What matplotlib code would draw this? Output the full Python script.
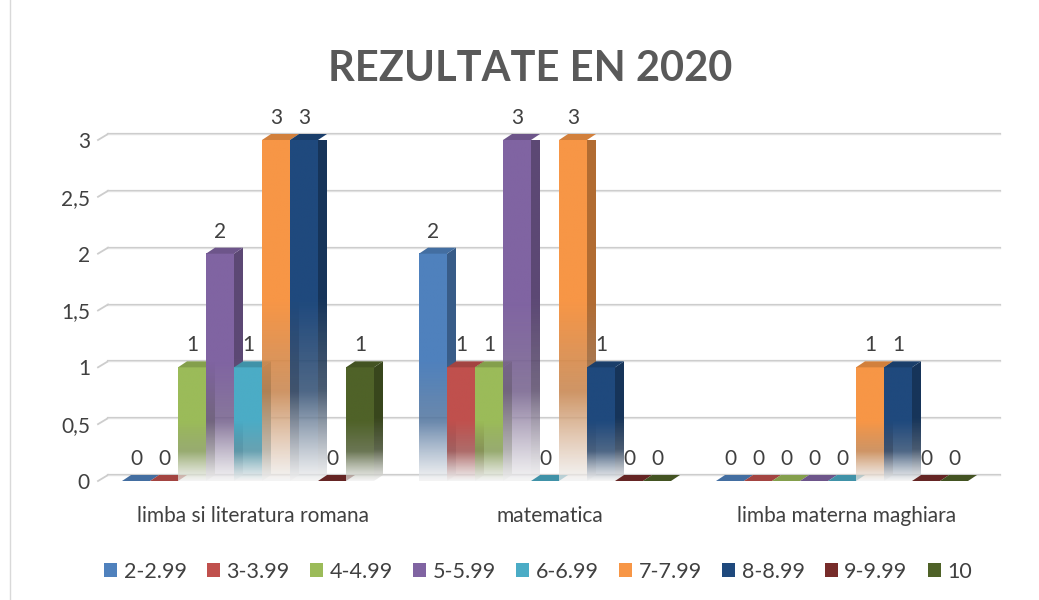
import numpy as np
import matplotlib.pyplot as plt
from matplotlib.patches import Polygon, Patch
from matplotlib.colors import to_rgb

plt.rcParams['font.family'] = ['Lato', 'DejaVu Sans']

categories = ['limba si literatura romana', 'matematica', 'limba materna maghiara']
series = ['2-2.99', '3-3.99', '4-4.99', '5-5.99', '6-6.99', '7-7.99', '8-8.99', '9-9.99', '10']
values = [
    [0, 0, 1, 2, 1, 3, 3, 0, 1],   # romana
    [2, 1, 1, 3, 0, 3, 1, 0, 0],   # matematica
    [0, 0, 0, 0, 0, 1, 1, 0, 0],   # maghiara
]
colors = ['#4F81BD', '#C0504D', '#9BBB59', '#8064A2', '#4BACC6',
          '#F79646', '#1F497D', '#772C2A', '#4F6228']
yticks = [0, 0.5, 1, 1.5, 2, 2.5, 3]

fig = plt.figure(figsize=(10.39, 6), dpi=100)
ax = fig.add_axes([108 / 1039, 119 / 600, 892 / 1039, 341 / 600])
ax.set_xlim(-140 / 297, 752 / 297)
ax.set_ylim(0, 3)

# pixel -> data helpers
PX = 1 / 297
PY = 3 / 341
dx, dy = 9 * PX, 6 * PY
w = 28 * PX
grid_col = '#CDCDCD'

# back-wall gridlines with a small slanted wall edge at the left
x0, x1 = ax.get_xlim()
for v in yticks:
    ax.plot([x0 - 10 * PX, x0], [v, v + dy], color=grid_col, lw=1.3, clip_on=False, zorder=1)
    ax.plot([x0, x1], [v + dy, v + dy], color=grid_col, lw=1.6, clip_on=False, zorder=1)
    ax.plot([x0, x1], [v + dy, v + dy], color='#F2F2F2', lw=0.4, clip_on=False, zorder=1.1)


def grad_img(col, dark=1.0, n=200):
    c = np.array(to_rgb(col)) * dark
    f = np.linspace(1, 0, n)[:, None]  # top row first
    s = np.clip(f / 0.52, 0, 1)
    light = np.array([0.94, 0.94, 0.94])
    mid = c * 0.7 + 0.1
    rgb = np.where(s[..., None] > 0.5,
                   mid[None, None, :] * (1 - (s[..., None] - 0.5) * 2) + c * ((s[..., None] - 0.5) * 2),
                   light * (1 - s[..., None] * 2) + mid * (s[..., None] * 2))
    rgb = rgb.reshape(n, 1, 3)
    alpha = (0.7 + 0.3 * s).reshape(n, 1, 1)
    return np.clip(np.concatenate([rgb, alpha], axis=2), 0, 1)


for g, vals in enumerate(values):
    for i, (v, col) in enumerate(zip(vals, colors)):
        left = g + (i - 4.5) * w
        right = left + w
        z = 3 + g * 10 + i * 0.1
        if v > 0:
            # side face
            side = Polygon([(right, 0), (right + dx, dy), (right + dx, v + dy), (right, v)],
                           closed=True, fc='none', ec='none')
            ax.add_patch(side)
            im = ax.imshow(grad_img(col, 0.72), extent=(right, right + dx, 0, v + dy),
                           aspect='auto', interpolation='bilinear', zorder=z)
            im.set_clip_path(side)
            # front face
            ax.imshow(grad_img(col), extent=(left, right, 0, v),
                      aspect='auto', interpolation='bilinear', zorder=z + 0.01)
        # top face
        top_c = np.array(to_rgb(col)) * 0.85
        ax.add_patch(Polygon([(left, v), (right, v), (right + dx, v + dy), (left + dx, v + dy)],
                             closed=True, fc=top_c, ec='none', zorder=z + 0.02, clip_on=False))
        ax.text(left + w / 2, v + 22 * PY, str(v), ha='center', va='center',
                fontsize=15, color='#404040', zorder=50, clip_on=False)

ax.set_xlim(-140 / 297, 752 / 297)
ax.set_ylim(0, 3)
ax.set_xticks([c + 5 * PX for c in range(len(categories))])
ax.set_xticklabels(categories, fontsize=15, color='#404040')
ax.set_yticks(yticks)
ax.set_yticklabels([str(t).replace('.', ',') if t % 1 else str(int(t)) for t in yticks],
                   fontsize=15, color='#404040')
ax.tick_params(axis='x', length=0, pad=18)
ax.tick_params(axis='y', length=0, pad=13)
for sp in ax.spines.values():
    sp.set_visible(False)
ax.patch.set_alpha(0)

fig.text(0.51, 0.885, 'REZULTATE EN 2020', ha='center', va='center',
         fontsize=30, fontweight='bold', color='#595959')

handles = [Patch(fc=c, ec='none') for c in colors]
fig.legend(handles, series, loc='center', bbox_to_anchor=(0.518, 0.047), ncol=9,
           frameon=False, fontsize=15.5, handlelength=0.6, handleheight=0.6,
           handletextpad=0.3, columnspacing=0.95, labelcolor='#404040')

fig.add_artist(plt.Line2D([10 / 1039, 10 / 1039], [0, 1], color='#D9D9D9', lw=1,
                          transform=fig.transFigure))

fig.savefig('out.png', dpi=100)
